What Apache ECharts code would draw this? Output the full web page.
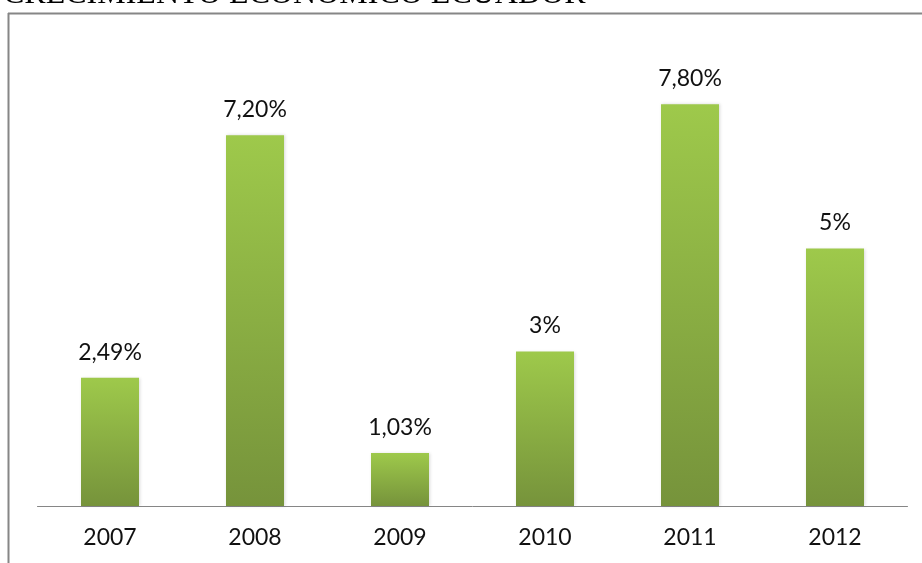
<!DOCTYPE html>
<html><head><meta charset="utf-8">
<script src="https://cdn.jsdelivr.net/npm/echarts@6/dist/echarts.min.js"></script>
<style>html,body{margin:0;padding:0;background:#fff}#c{width:922px;height:563px}</style>
</head><body><div id="c"></div>
<script>
const titleText = 'CRECIMIENTO ECONOMICO ECUADOR';
const categories = ['2007','2008','2009','2010','2011','2012'];
const values = [2.49, 7.20, 1.03, 3, 7.80, 5];
const valueLabels = ['2,49%','7,20%','1,03%','3%','7,80%','5%'];

const chart = echarts.init(document.getElementById('c'));
chart.setOption({
  animation: false,
  title: {
    text: titleText, left: -2, top: -26,
    textStyle: {fontFamily: 'Liberation Serif', fontSize: 32, fontWeight: 'normal', color: '#000'}
  },
  graphic: [
    {type: 'line', shape: {x1: 8, y1: 13.5, x2: 922, y2: 13.5}, style: {stroke: '#868686', lineWidth: 2}},
    {type: 'line', shape: {x1: 8.5, y1: 13, x2: 8.5, y2: 563}, style: {stroke: '#868686', lineWidth: 2}}
  ],
  grid: {left: 37.5, width: 870, top: 42.5, bottom: 57},
  xAxis: {
    type: 'category', data: categories,
    axisLine: {lineStyle: {color: '#868686', width: 1}},
    axisTick: {show: false},
    axisLabel: {color: '#111', fontFamily: 'Lato', fontSize: 23, margin: 20}
  },
  yAxis: {type: 'value', min: 0, max: 9, show: false, splitLine: {show: false}},
  series: [{
    type: 'bar', barWidth: 58,
    data: values,
    itemStyle: {
      color: new echarts.graphic.LinearGradient(0, 0, 0, 1, [
        {offset: 0, color: '#9ec94b'},
        {offset: 1, color: '#76933b'}
      ]),
      shadowColor: 'rgba(0,0,0,0.15)', shadowBlur: 3, shadowOffsetX: 1
    },
    label: {
      show: true, position: 'top', distance: 14,
      fontFamily: 'Lato', fontSize: 23, color: '#111',
      formatter: p => valueLabels[p.dataIndex]
    }
  }]
});
</script></body></html>
